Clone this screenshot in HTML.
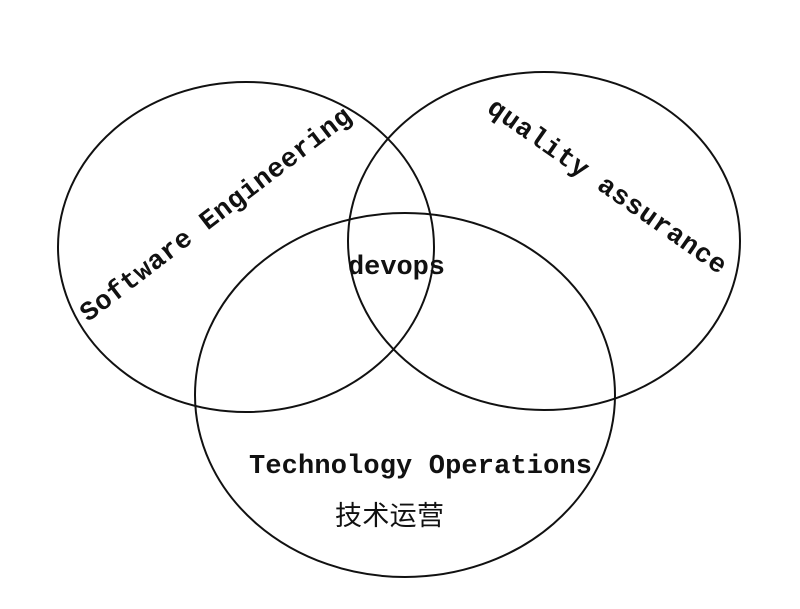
<!DOCTYPE html>
<html><head><meta charset="utf-8"><style>
html,body{margin:0;padding:0;background:#fff;width:800px;height:609px;overflow:hidden}
svg text{font-family:"Liberation Mono",monospace;font-weight:bold;fill:#111}
</style></head><body>
<svg width="800" height="609" viewBox="0 0 800 609" xmlns="http://www.w3.org/2000/svg">
<g fill="none" stroke="#111" stroke-width="2">
<ellipse cx="246" cy="247" rx="188" ry="165"/>
<ellipse cx="544" cy="241" rx="196" ry="169"/>
<ellipse cx="405" cy="395" rx="210" ry="182"/>
</g>
<text x="217" y="216" font-size="27" text-anchor="middle" dominant-baseline="central" textLength="334" transform="rotate(-37.5 217 216)">Software Engineering</text>
<text x="606" y="188" font-size="27" text-anchor="middle" dominant-baseline="central" textLength="285" transform="rotate(35 606 188)">quality assurance</text>
<text x="348" y="274" font-size="27" textLength="97">devops</text>
<text x="249" y="473" font-size="27" textLength="343">Technology Operations</text>
<text x="335" y="525" font-size="27" style="font-family:'Noto Sans CJK SC',sans-serif;font-weight:normal" textLength="109">技术运营</text>
</svg>
</body></html>
